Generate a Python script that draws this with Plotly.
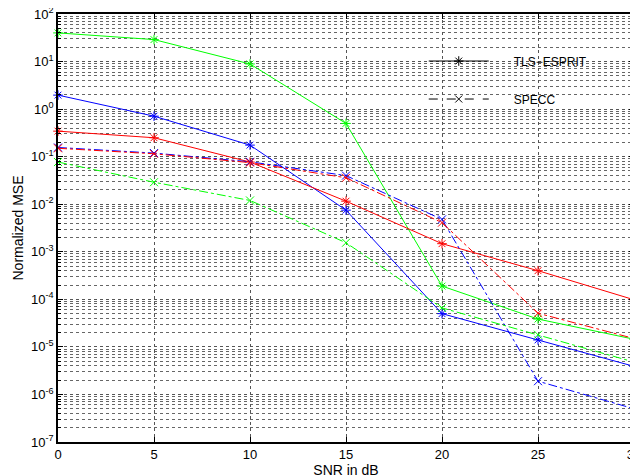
import plotly.graph_objects as go

snr = [0, 5, 10, 15, 20, 25, 30]

tls_green = [40, 29, 8.9, 0.5, 1.9e-4, 3.85e-5, 1.45e-5]
tls_blue = [1.97, 0.71, 0.175, 7.5e-3, 5.0e-5, 1.4e-5, 3.9e-6]
tls_red = [0.344, 0.25, 0.077, 0.0116, 1.48e-3, 4.0e-4, 9.8e-5]

specc_blue = [0.156, 0.119, 0.078, 0.040, 4.8e-3, 1.9e-6, 5.0e-7]
specc_red = [0.150, 0.115, 0.075, 0.036, 4.1e-3, 5.1e-5, 1.5e-5]
specc_green = [0.077, 0.029, 0.012, 1.55e-3, 6.6e-5, 1.8e-5, 4.8e-6]

ytick_vals = [1e-7, 1e-6, 1e-5, 1e-4, 1e-3, 1e-2, 1e-1, 1e0, 1e1, 1e2]
ytick_text = ["10<sup>-7</sup>", "10<sup>-6</sup>", "10<sup>-5</sup>", "10<sup>-4</sup>",
              "10<sup>-3</sup>", "10<sup>-2</sup>", "10<sup>-1</sup>", "10<sup>0</sup>",
              "10<sup>1</sup>", "10<sup>2</sup>"]
xtick_vals = [0, 5, 10, 15, 20, 25, 30]

fig = go.Figure()

def solid(y, c):
    fig.add_trace(go.Scatter(x=snr, y=y, mode="lines+markers", showlegend=False,
                             cliponaxis=False,
                             line=dict(color=c, width=1),
                             marker=dict(symbol="asterisk-open", size=8, color=c,
                                         line=dict(color=c, width=1))))

def dashed(y, c):
    fig.add_trace(go.Scatter(x=snr, y=y, mode="lines+markers", showlegend=False,
                             cliponaxis=False,
                             line=dict(color=c, width=1, dash="dashdot"),
                             marker=dict(symbol="x-thin-open", size=8, color=c,
                                         line=dict(color=c, width=1))))

solid(tls_green, "#00ff00")
solid(tls_blue, "#0000ff")
solid(tls_red, "#ff0000")
dashed(specc_blue, "#0000ff")
dashed(specc_red, "#ff0000")
dashed(specc_green, "#00ff00")

pad = "\u00a0" * 6
fig.add_trace(go.Scatter(x=[None], y=[None], mode="lines+markers", name=pad + "TLS−ESPRIT",
                         legendgroup="a",
                         line=dict(color="black", width=1),
                         marker=dict(symbol="asterisk-open", size=8, color="black",
                                     line=dict(color="black", width=1))))
fig.add_trace(go.Scatter(x=[None], y=[None], mode="lines+markers", name=pad + "SPECC",
                         legendgroup="b",
                         line=dict(color="black", width=1, dash="dash"),
                         marker=dict(symbol="x-thin-open", size=7, color="black",
                                     line=dict(color="black", width=1))))

axis_common = dict(showline=True, linecolor="black", linewidth=1.5, mirror="ticks",
                   ticks="inside", ticklen=5, tickcolor="black",
                   gridcolor="#555555", griddash="dot", gridwidth=1, zeroline=False,
                   ticklabeloverflow="allow",
                   tickfont=dict(size=13, color="black"))

fig.update_layout(
    width=638, height=476,
    margin=dict(l=50, r=12, t=6, b=42, autoexpand=False),
    paper_bgcolor="white", plot_bgcolor="white",
    font=dict(family="Liberation Sans, Arial, sans-serif", size=13, color="black"),
    legend=dict(x=0.635, y=0.924, xanchor="left", yanchor="top",
                bgcolor="rgba(0,0,0,0)", borderwidth=0, traceorder="grouped",
                font=dict(size=12), tracegroupgap=19, itemwidth=60),
    xaxis=dict(range=[0, 30], tickvals=xtick_vals,
               title=dict(text="SNR in dB", standoff=0, font=dict(size=14)),
               **axis_common),
    yaxis=dict(type="log", range=[-7, 2], tickvals=ytick_vals, ticktext=ytick_text,
               title=dict(text="Normalized MSE", standoff=4, font=dict(size=14)),
               minor=dict(tickvals=[m * 10**e for e in range(-7, 2) for m in range(2, 10)],
                          showgrid=True, gridcolor="#666666", griddash="dot",
                          ticks="inside", ticklen=3, tickcolor="black"),
               **axis_common),
)

fig.write_html("out.html")
